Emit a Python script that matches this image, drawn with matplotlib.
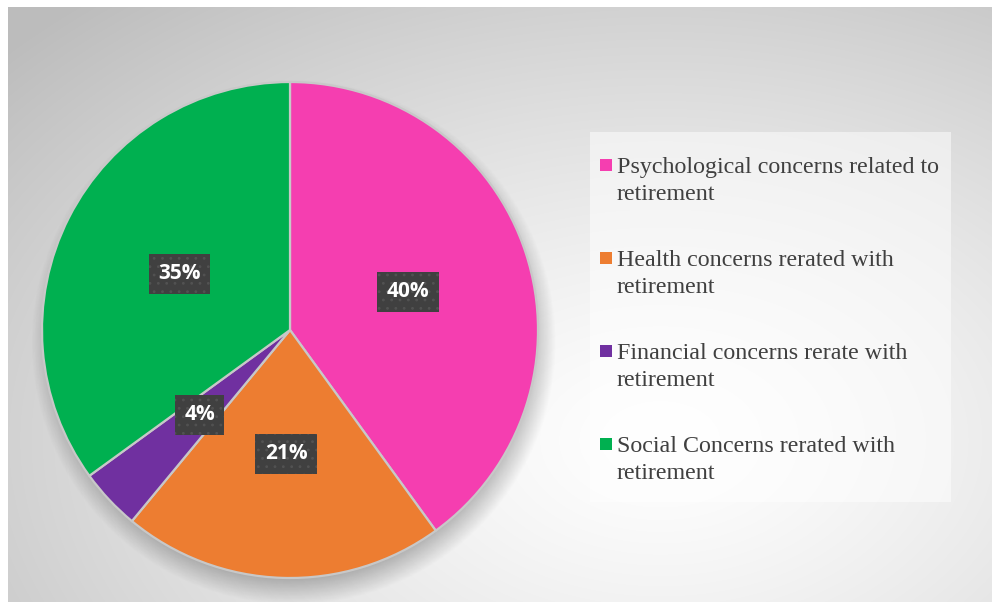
import numpy as np
import matplotlib.pyplot as plt
from matplotlib.patches import Rectangle

categories = [
    "Psychological concerns related to\nretirement",
    "Health concerns rerated with\nretirement",
    "Financial concerns rerate with\nretirement",
    "Social Concerns rerated with\nretirement",
]
shares = [40, 21, 4, 35]
colors = ["#f53eb0", "#ed7d31", "#7030a0", "#00b050"]

plt.rcParams["hatch.color"] = "#525252"
plt.rcParams["hatch.linewidth"] = 0.8

W, H = 992, 602
fig = plt.figure(figsize=(W / 100, H / 100), dpi=100)
fig.patch.set_facecolor("white")

# gray panel with a soft radial highlight
bg = fig.add_axes([8 / W, 0, 1 - 8 / W, 1 - 7 / H])
bg.set_axis_off()
yy, xx = np.mgrid[7:H, 8:W]
d = np.sqrt(((xx - 660) / 650.0) ** 2 + ((yy - 440) / 430.0) ** 2)
g = 1.0 - 0.26 * np.clip(d / 1.35, 0, 1) ** 1.3
bg.imshow(np.dstack([g, g, g]), extent=(0, 1, 0, 1), aspect="auto")
bg.set_xlim(0, 1)
bg.set_ylim(0, 1)

# pie axes: centre (290, 330) px, radius 248 px
cx, cy, r = 290, 330, 248
half = 1.1 * r
ax = fig.add_axes([(cx - half) / W, (H - cy - half) / H, 2 * half / W, 2 * half / H])
ax.set_axis_off()

# blurred drop shadow, mostly below the pie
sy, sx = np.mgrid[1.1:-1.1:400j, -1.1:1.1:400j]
sr = np.sqrt((sx - 0.015) ** 2 + (sy + 0.05) ** 2)
alpha = 0.28 * np.clip((1.06 - sr) / 0.12, 0, 1)
shadow = np.zeros((400, 400, 4))
shadow[..., 3] = alpha
ax.imshow(shadow, extent=(-1.1, 1.1, -1.1, 1.1), zorder=0)

wedges, texts, autotexts = ax.pie(
    shares,
    colors=colors,
    startangle=90,
    counterclock=False,
    radius=1.0,
    autopct="%d%%",
    pctdistance=0.5,
    wedgeprops=dict(edgecolor="#c8c8c8", linewidth=1.6),
    textprops=dict(color="white", fontsize=15, fontweight="bold",
                   family="Open Sans"),
)
for w in wedges:
    w.set_zorder(2)
for t in autotexts:
    t.set_zorder(5)
    t.set_bbox(dict(boxstyle="square,pad=0.45", facecolor="#404040",
                    edgecolor="#525252", linewidth=0, hatch=".."))
ax.set_xlim(-1.1, 1.1)
ax.set_ylim(-1.1, 1.1)
ax.set_aspect("auto")

# legend panel
fig.patches.append(Rectangle((590 / W, 1 - 502 / H), 361 / W, 370 / H,
                             transform=fig.transFigure, facecolor="white",
                             alpha=0.5, edgecolor="none", zorder=1))
first_line = [165, 258, 351, 444]
for lab, col, y in zip(categories, colors, first_line):
    fig.patches.append(Rectangle((600 / W, 1 - (y + 6) / H), 12 / W, 12 / H,
                                 transform=fig.transFigure, facecolor=col,
                                 edgecolor="none", zorder=2))
    fig.text(617 / W, 1 - (y - 8) / H, lab, ha="left", va="top",
             fontsize=17.3, family="Liberation Serif", color="#404040",
             linespacing=1.36, zorder=3)

fig.savefig("out.png", dpi=100)
